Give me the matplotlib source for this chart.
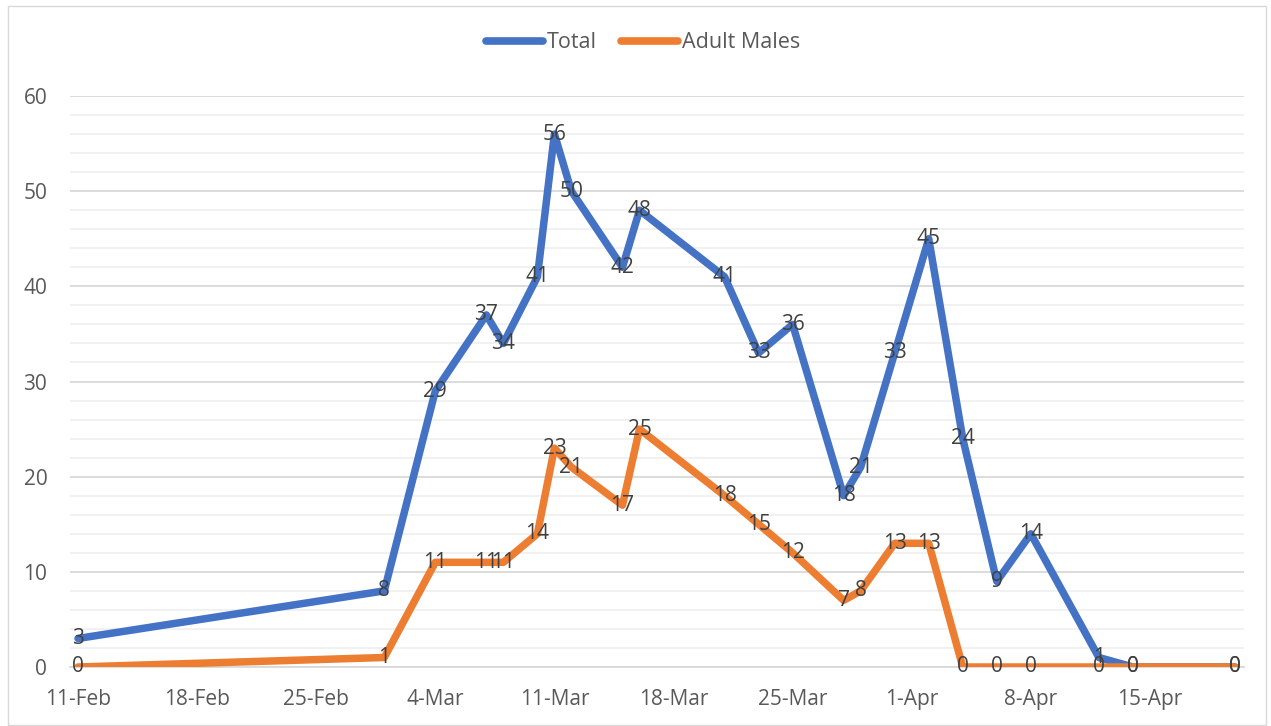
import matplotlib
matplotlib.use("Agg")
import matplotlib.pyplot as plt
import matplotlib.dates as mdates
from matplotlib.patches import Rectangle
from matplotlib.ticker import MultipleLocator
import datetime as dt

plt.rcParams['font.family'] = ['Open Sans', 'DejaVu Sans']

dates = ["2021-02-11", "2021-03-01", "2021-03-04", "2021-03-07", "2021-03-08",
         "2021-03-10", "2021-03-11", "2021-03-12", "2021-03-15", "2021-03-16",
         "2021-03-21", "2021-03-23", "2021-03-25", "2021-03-28", "2021-03-29",
         "2021-03-31", "2021-04-02", "2021-04-04", "2021-04-06", "2021-04-08",
         "2021-04-12", "2021-04-14", "2021-04-20"]
total = [3, 8, 29, 37, 34, 41, 56, 50, 42, 48, 41, 33, 36, 18, 21, 33, 45, 24, 9, 14, 1, 0, 0]
adult_males = [0, 1, 11, 11, 11, 14, 23, 21, 17, 25, 18, 15, 12, 7, 8, 13, 13, 0, 0, 0, 0, 0, 0]
tick_dates = ["2021-02-11", "2021-02-18", "2021-02-25", "2021-03-04", "2021-03-11",
              "2021-03-18", "2021-03-25", "2021-04-01", "2021-04-08", "2021-04-15"]

x = [mdates.date2num(dt.datetime.strptime(d, "%Y-%m-%d")) for d in dates]
tx = [mdates.date2num(dt.datetime.strptime(d, "%Y-%m-%d")) for d in tick_dates]

W, H = 1271, 726
fig = plt.figure(figsize=(W / 100, H / 100), dpi=100)
fig.patches.append(Rectangle((8 / W, 1 - 725 / H), (1266 - 8) / W, (725 - 6) / H,
                             transform=fig.transFigure, fill=False,
                             edgecolor='#D9D9D9', linewidth=1))

ax = fig.add_axes([69.5 / W, 1 - 667 / H, (1243.5 - 69.5) / W, (667 - 96) / H])
blue = '#4472C4'
orange = '#ED7D31'
ax.plot(x, total, color=blue, lw=5.4, solid_joinstyle='round', solid_capstyle='round',
        label='Total', zorder=3)
ax.plot(x, adult_males, color=orange, lw=5.4, solid_joinstyle='round', solid_capstyle='round',
        label='Adult Males', zorder=4)

for xi, v in zip(x, total):
    ax.text(xi, v, str(v), ha='center', va='center', fontsize=15, color='#404040', zorder=6)
for xi, v in zip(x, adult_males):
    ax.text(xi, v, str(v), ha='center', va='center', fontsize=15, color='#404040', zorder=6)

ax.set_xlim(x[0] - 0.5, x[-1] + 0.5)
ax.set_ylim(0, 60)
ax.yaxis.set_major_locator(MultipleLocator(10))
ax.yaxis.set_minor_locator(MultipleLocator(2))
ax.grid(which='major', axis='y', color='#D9D9D9', lw=1.3, zorder=0)
ax.grid(which='minor', axis='y', color='#F0F0F0', lw=1.3, zorder=0)
ax.set_xticks(tx)
ax.set_xticklabels([dt.datetime.strptime(d, "%Y-%m-%d").strftime("%-d-%b") for d in tick_dates])
ax.tick_params(axis='both', which='both', length=0, labelsize=15, labelcolor='#595959')
ax.tick_params(axis='x', pad=16)
ax.tick_params(axis='y', pad=16)
for s in ['top', 'right', 'left']:
    ax.spines[s].set_visible(False)
ax.spines['bottom'].set_color('#D9D9D9')
ax.spines['bottom'].set_linewidth(1.3)
ax.set_axisbelow(True)

leg = fig.legend(loc='center', bbox_to_anchor=(643 / W, 1 - 43 / H), ncol=2, frameon=False,
                 fontsize=15.5, handlelength=2.65, handletextpad=0.15, columnspacing=1.15)
for t in leg.get_texts():
    t.set_color('#595959')
for h in leg.get_lines():
    h.set_linewidth(5.5)
    h.set_solid_capstyle('round')

fig.savefig('out.png', dpi=100)
